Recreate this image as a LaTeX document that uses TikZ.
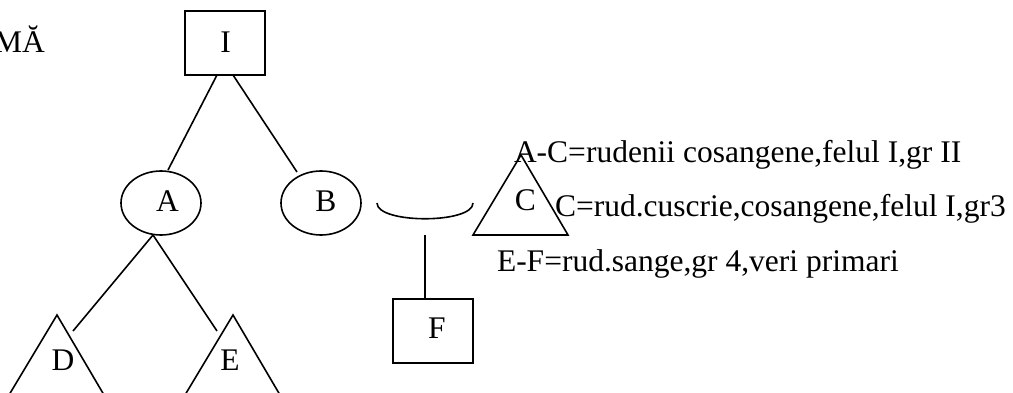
\documentclass[tikz,border=0pt]{standalone}
\usepackage{fontspec}
\setmainfont{Liberation Serif}
\usetikzlibrary{shapes.geometric,calc}
\begin{document}
\begin{tikzpicture}[x=1pt,y=-1pt,
  every node/.style={inner sep=0pt, outer sep=0pt, font=\fontsize{31.5}{38}\selectfont},
  ln/.style={line width=1.6pt, line join=miter},
  boxnode/.style={draw, line width=1.6pt, minimum width=80pt, minimum height=64pt},
  ellnode/.style={draw, ellipse, line width=1.6pt, minimum width=80pt, minimum height=64pt},
  txt/.style={anchor=base west}]
\useasboundingbox (0,0) rectangle (1013,393);
\clip (0,0) rectangle (1013,393);
% heading fragment
\node[anchor=base east] (head) at (45,53) {MĂ};
% shapes
\node[boxnode] (I) at (225,43) {};
\node (Il) at (225.5,42) {I};
\node[ellnode] (A) at (161,203) {};
\node (Al) at (167.5,201) {A};
\node[ellnode] (B) at (321,203) {};
\node (Bl) at (326,201) {B};
\node[boxnode] (F) at (433,331) {};
\node (Fl) at (437,328) {F};
% triangles
\coordinate (Ct) at (521,155);
\coordinate (Cl) at (473,235);
\coordinate (Cr) at (568,235);
\draw[ln] (Cl) -- (Ct) -- (Cr) -- cycle;
\node (Clab) at (525.5,200) {C};
\coordinate (Dt) at (57,315);
\coordinate (Dl) at (9,395);
\coordinate (Dr) at (104,395);
\draw[ln] (Dl) -- (Dt) -- (Dr) -- cycle;
\node (Dlab) at (63,360) {D};
\coordinate (Et) at (233,315);
\coordinate (El) at (185,395);
\coordinate (Er) at (280,395);
\draw[ln] (El) -- (Et) -- (Er) -- cycle;
\node (Elab) at (230,360) {E};
% marriage arc
\coordinate (arcL) at (377,203);
\coordinate (arcR) at (473,203);
\draw[ln] (arcL) .. controls (377,224) and (473,224) .. (arcR);
\coordinate (Ftop) at (425,235);
\draw[ln] (Ftop) -- ([xshift=-8pt]F.north);
% connectors
\coordinate (Bend) at (297,172);
\coordinate (Dend) at (73,331);
\coordinate (Eend) at (217,331);
\draw[ln] ([xshift=-8pt]I.south) -- ([xshift=7pt,yshift=1pt]A.north);
\draw[ln] ([xshift=8pt]I.south) -- (Bend);
\draw[ln] ([xshift=-8pt]A.south) -- (Dend);
\draw[ln] ([xshift=-8pt]A.south) -- (Eend);
% legend texts
\node[txt] (t1) at (514,163) {A-C=rudenii cosangene,felul I,gr II};
\node[txt] (t2) at (555,217) {C=rud.cuscrie,cosangene,felul I,gr3};
\node[txt] (t3) at (497,271) {E-F=rud.sange,gr 4,veri primari};
\end{tikzpicture}
\end{document}
